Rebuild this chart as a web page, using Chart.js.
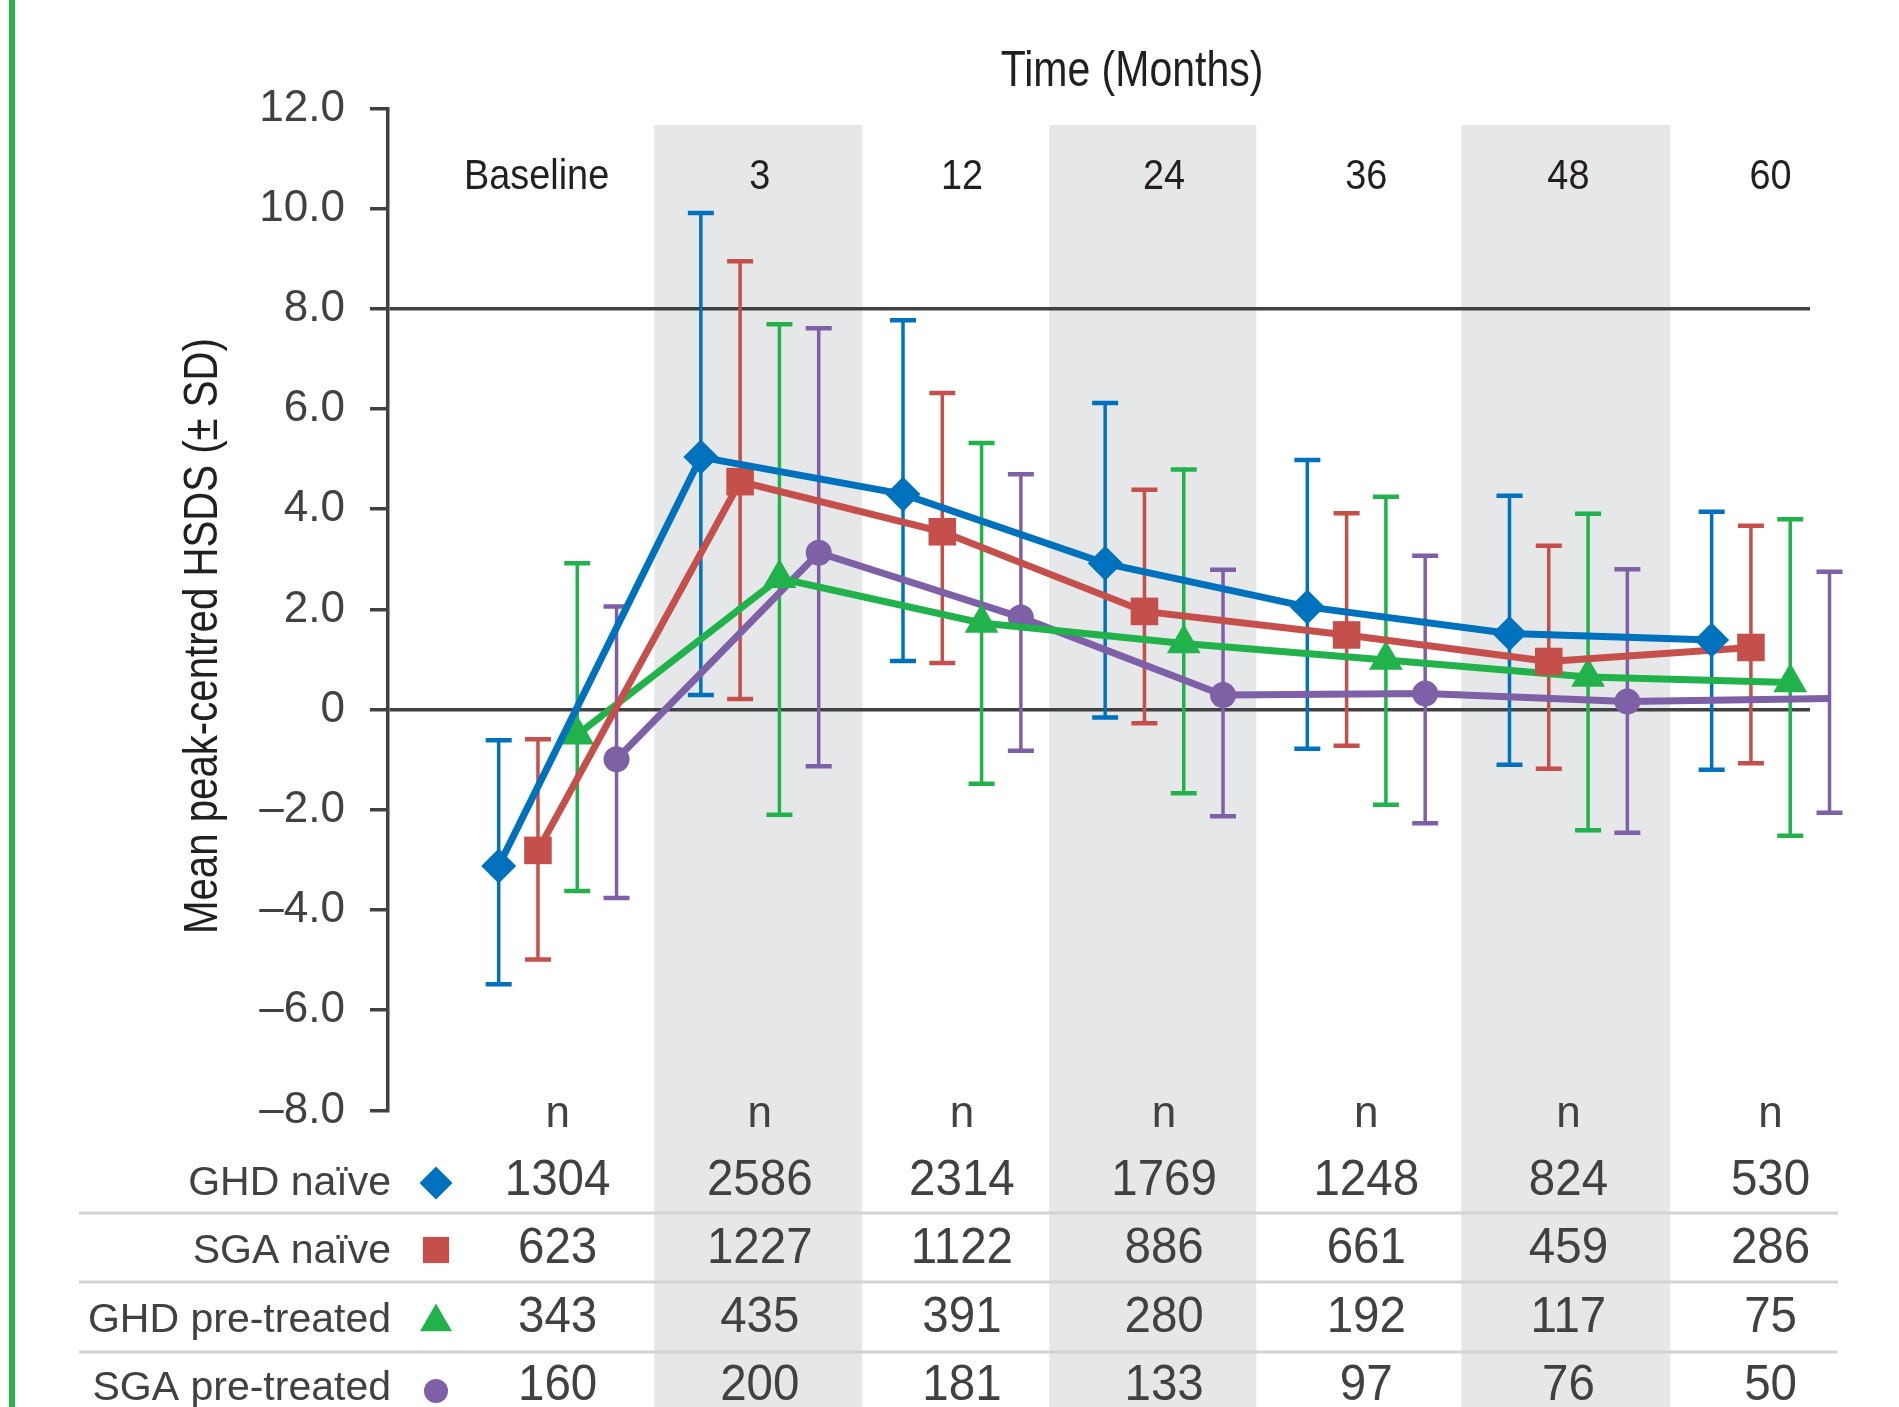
<!DOCTYPE html>
<html>
<head>
<meta charset="utf-8">
<title>Mean peak-centred HSDS</title>
<script src="https://cdn.jsdelivr.net/npm/chart.js@4.4.1/dist/chart.umd.min.js"></script>
<style>
  html, body { margin: 0; padding: 0; background: #fff; }
  #wrap { position: relative; width: 1899px; height: 1407px; overflow: hidden; }
</style>
</head>
<body>
<div id="wrap"><canvas id="hsds" width="1899" height="1407"></canvas></div>
<script>
// categories (months) and series
const categories = ['Baseline', '3', '12', '24', '36', '48', '60'];
const seriesNames = ['GHD naïve', 'SGA naïve', 'GHD pre-treated', 'SGA pre-treated'];
const yTicks = [12, 10, 8, 6, 4, 2, 0, -2, -4, -6, -8];

// mean and error bar ends (± SD)
const ghdNaiveMean = [-3.12, 5.04, 4.30, 2.92, 2.05, 1.52, 1.39];
const ghdNaiveHigh = [-0.61, 9.91, 7.77, 6.12, 4.98, 4.27, 3.95];
const ghdNaiveLow  = [-5.48, 0.29, 0.97, -0.16, -0.78, -1.10, -1.20];

const sgaNaiveMean = [-2.81, 4.55, 3.55, 1.96, 1.49, 0.96, 1.24];
const sgaNaiveHigh = [-0.59, 8.95, 6.32, 4.39, 3.92, 3.27, 3.67];
const sgaNaiveLow  = [-4.99, 0.21, 0.93, -0.27, -0.72, -1.18, -1.07];

const ghdPreMean = [-0.50, 2.62, 1.73, 1.32, 0.99, 0.65, 0.54];
const ghdPreHigh = [2.92, 7.69, 5.32, 4.79, 4.25, 3.91, 3.80];
const ghdPreLow  = [-3.62, -2.10, -1.48, -1.67, -1.90, -2.41, -2.52];

const sgaPreMean = [-0.99, 3.13, 1.84, 0.29, 0.32, 0.16, 0.22];
const sgaPreHigh = [2.06, 7.61, 4.70, 2.79, 3.07, 2.80, 2.75];
const sgaPreLow  = [-3.76, -1.13, -0.82, -2.13, -2.27, -2.46, -2.06];

// n per time point
const nGhdNaive = [1304, 2586, 2314, 1769, 1248, 824, 530];
const nSgaNaive = [623, 1227, 1122, 886, 661, 459, 286];
const nGhdPre = [343, 435, 391, 280, 192, 117, 75];
const nSgaPre = [160, 200, 181, 133, 97, 76, 50];

// ---- look ----
const FONT = '"Liberation Sans", Arial, sans-serif';
const INK = '#231f20';
const GREY_TEXT = '#414042';
const AXIS = '#414042';
const dodge = [-0.2915, -0.0972, 0.0972, 0.2915];
const bands = [[0.478, 1.507], [2.432, 3.456], [4.470, 5.504]];

const series = [
  { name: seriesNames[0], mean: ghdNaiveMean, hi: ghdNaiveHigh, lo: ghdNaiveLow, n: nGhdNaive, color: '#0071bd', style: 'rectRot', r: 17.5 },
  { name: seriesNames[1], mean: sgaNaiveMean, hi: sgaNaiveHigh, lo: sgaNaiveLow, n: nSgaNaive, color: '#c5504b', style: 'rect', r: 19.5 },
  { name: seriesNames[2], mean: ghdPreMean, hi: ghdPreHigh, lo: ghdPreLow, n: nGhdPre, color: '#22b24c', style: 'triangle', r: 19.5 },
  { name: seriesNames[3], mean: sgaPreMean, hi: sgaPreHigh, lo: sgaPreLow, n: nSgaPre, color: '#7e60a6', style: 'circle', r: 13 },
];

const rowBase = [1195, 1263, 1332, 1400];
const rowMark = [1183, 1250, 1322, 1391];
const rules = [1213, 1282, 1352];

function condensedText(ctx, text, x, y, sx) {
  ctx.save();
  ctx.translate(x, y);
  ctx.scale(sx, 1);
  ctx.fillText(text, 0, 0);
  ctx.restore();
}

const decor = {
  id: 'decor',
  beforeDraw(chart) {
    const { ctx } = chart;
    const xs = chart.scales.x;
    ctx.save();
    ctx.fillStyle = '#e6e7e9';
    bands.forEach(([a, b]) => {
      const x1 = xs.getPixelForValue(a);
      const x2 = xs.getPixelForValue(b);
      ctx.fillRect(x1, 125, x2 - x1, chart.height - 125);
    });
    ctx.strokeStyle = '#d2d3d5';
    ctx.lineWidth = 3;
    rules.forEach(y => {
      ctx.beginPath();
      ctx.moveTo(79, y);
      ctx.lineTo(1838, y);
      ctx.stroke();
    });
    ctx.fillStyle = '#2bb34b';
    ctx.fillRect(9, 0, 6, chart.height);
    ctx.restore();
  },
  beforeDatasetsDraw(chart) {
    const { ctx } = chart;
    const xs = chart.scales.x, ys = chart.scales.y;
    ctx.save();
    series.forEach((s, k) => {
      ctx.strokeStyle = s.color;
      s.mean.forEach((v, i) => {
        const x = xs.getPixelForValue(i + dodge[k]);
        const yT = ys.getPixelForValue(s.hi[i]);
        const yB = ys.getPixelForValue(s.lo[i]);
        ctx.lineWidth = 3.5;
        ctx.beginPath();
        ctx.moveTo(x, yT);
        ctx.lineTo(x, yB);
        ctx.stroke();
        ctx.lineWidth = 4.5;
        ctx.beginPath();
        ctx.moveTo(x - 13, yT); ctx.lineTo(x + 13, yT);
        ctx.moveTo(x - 13, yB); ctx.lineTo(x + 13, yB);
        ctx.stroke();
      });
    });
    ctx.restore();
  },
  afterDraw(chart) {
    const { ctx } = chart;
    const xs = chart.scales.x;
    ctx.save();
    ctx.textBaseline = 'alphabetic';

    // column headings
    ctx.fillStyle = INK;
    ctx.textAlign = 'center';
    ctx.font = '43px ' + FONT;
    categories.forEach((c, i) => {
      condensedText(ctx, c, xs.getPixelForValue(i) + (i === 0 ? -21 : 0), 189, 0.88);
    });
    ctx.font = '50px ' + FONT;
    condensedText(ctx, 'Time (Months)', 1132, 86, 0.82);

    // y title
    ctx.save();
    ctx.translate(217, 636);
    ctx.rotate(-Math.PI / 2);
    ctx.font = '49px ' + FONT;
    condensedText(ctx, 'Mean peak-centred HSDS (± SD)', 0, 0, 0.82);
    ctx.restore();

    // table
    ctx.fillStyle = GREY_TEXT;
    ctx.font = '44px ' + FONT;
    categories.forEach((c, i) => ctx.fillText('n', xs.getPixelForValue(i), 1127));
    series.forEach((s, k) => {
      ctx.fillStyle = GREY_TEXT;
      ctx.textAlign = 'right';
      ctx.font = '41px ' + FONT;
      ctx.fillText(s.name, 391, rowBase[k]);
      ctx.textAlign = 'center';
      ctx.font = '50px ' + FONT;
      s.n.forEach((v, i) => condensedText(ctx, String(v), xs.getPixelForValue(i), rowBase[k], 0.95));
      ctx.fillStyle = s.color;
      Chart.helpers.drawPoint(ctx, { pointStyle: s.style, radius: s.r - 1, rotation: 0, borderWidth: 0 }, 436, rowMark[k]);
    });
    ctx.restore();
  }
};

new Chart(document.getElementById('hsds'), {
  type: 'line',
  data: {
    datasets: series.map((s, k) => ({
      label: s.name,
      data: s.mean.map((v, i) => ({ x: i + dodge[k], y: v })),
      borderColor: s.color,
      backgroundColor: s.color,
      borderWidth: 7,
      pointStyle: s.style,
      pointRadius: s.r,
      pointHoverRadius: s.r,
      pointBorderWidth: 0,
      tension: 0,
      clip: false,
    })),
  },
  options: {
    responsive: false,
    animation: false,
    devicePixelRatio: 1,
    layout: { padding: { left: 0, top: 108.4, right: 89, bottom: 296.6 } },
    plugins: { legend: { display: false }, tooltip: { enabled: false } },
    scales: {
      x: { type: 'linear', min: -0.839, max: 6.195, display: false },
      y: {
        min: -8,
        max: 12,
        afterFit(scale) { scale.width = 388; },
        afterBuildTicks(scale) { scale.ticks = yTicks.map(v => ({ value: v })); },
        ticks: {
          padding: 25,
          color: GREY_TEXT,
          font: { family: FONT, size: 44 },
          callback: v => (v === 0 ? '0' : (v < 0 ? '\u2013' + Math.abs(v).toFixed(1) : v.toFixed(1))),
        },
        grid: {
          drawTicks: true,
          tickLength: 18,
          tickWidth: 3.5,
          tickColor: AXIS,
          lineWidth: 3.5,
          color: ctx => (ctx.tick && (ctx.tick.value === 0 || ctx.tick.value === 8) ? AXIS : 'rgba(0,0,0,0)'),
        },
        border: { display: true, color: AXIS, width: 3.5 },
      },
    },
  },
  plugins: [decor],
});
</script>
</body>
</html>
